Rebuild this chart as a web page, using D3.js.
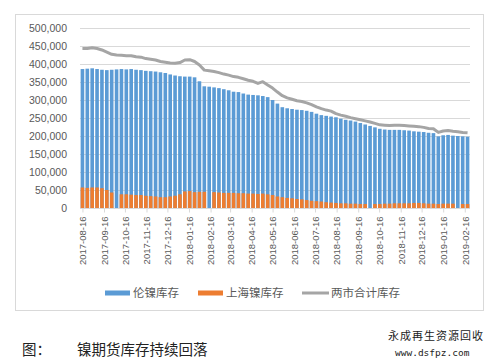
<!DOCTYPE html>
<html>
<head>
<meta charset="utf-8">
<script src="https://cdn.jsdelivr.net/npm/d3@7"></script>
<style>
  body { margin: 0; background: #fff; }
  svg { display: block; }
</style>
</head>
<body>
<div id="chart"></div>
<script>
// weekly dates (categories)
const dates = [
  "2017-08-16","2017-08-23","2017-08-30","2017-09-06","2017-09-13","2017-09-20","2017-09-27","2017-10-04",
  "2017-10-11","2017-10-18","2017-10-25","2017-11-01","2017-11-08","2017-11-15","2017-11-22","2017-11-29",
  "2017-12-06","2017-12-13","2017-12-20","2017-12-27","2018-01-03","2018-01-10","2018-01-17","2018-01-24",
  "2018-01-31","2018-02-07","2018-02-14","2018-02-21","2018-02-28","2018-03-07","2018-03-14","2018-03-21",
  "2018-03-28","2018-04-04","2018-04-11","2018-04-18","2018-04-25","2018-05-02","2018-05-09","2018-05-16",
  "2018-05-23","2018-05-30","2018-06-06","2018-06-13","2018-06-20","2018-06-27","2018-07-04","2018-07-11",
  "2018-07-18","2018-07-25","2018-08-01","2018-08-08","2018-08-15","2018-08-22","2018-08-29","2018-09-05",
  "2018-09-12","2018-09-19","2018-09-26","2018-10-03","2018-10-10","2018-10-17","2018-10-24","2018-10-31",
  "2018-11-07","2018-11-14","2018-11-21","2018-11-28","2018-12-05","2018-12-12","2018-12-19","2018-12-26",
  "2019-01-02","2019-01-09","2019-01-16","2019-01-23","2019-01-30","2019-02-06","2019-02-13","2019-02-20"
];

// 伦镍库存 (tonnes)
const lme = [
  386000,387000,388000,386000,384000,383000,384000,385000,386000,385000,386000,384000,383000,381000,380000,379000,
  377000,375000,371000,368000,366000,365000,365000,363000,352000,338000,337000,335000,333000,330000,327000,323000,
  322000,318000,315000,314000,313000,311000,308000,300000,290000,280000,277000,275000,273000,272000,270000,267000,
  262000,258000,256000,254000,252000,248000,245000,243000,240000,236000,232000,228000,224000,220000,218000,217000,
  217000,217000,216000,215000,213000,212000,211000,209000,208000,199000,202000,203000,201000,200000,199000,198000
];

// 上海镍库存 (null = no data that week)
const shfe = [
  57000,56000,57000,57000,55000,50000,43000,null,38000,38000,37000,36000,36000,34000,33000,32000,
  30000,30000,32000,34000,38000,46000,47000,44000,45000,45000,null,44000,43000,42000,42000,42000,
  41000,41000,40000,40000,39000,40000,38000,36000,32000,30000,28000,27000,25000,24000,22000,20000,
  19000,18000,16000,15000,14000,13000,13000,12000,12000,11000,11000,null,11000,11000,12000,12000,
  13000,13000,13000,13000,14000,14000,13000,12000,12000,11000,12000,12000,12000,null,11000,11000
];

// 两市合计库存
const total = [
  443000,443000,445000,443000,439000,433000,427000,425000,424000,423000,423000,420000,419000,415000,413000,411000,
  407000,405000,403000,402000,404000,411000,412000,407000,397000,383000,381000,379000,376000,372000,369000,365000,
  363000,359000,355000,352000,346000,351000,342000,333000,322000,312000,306000,302000,298000,296000,292000,287000,
  281000,276000,272000,269000,262000,258000,255000,251000,248000,245000,242000,239000,235000,231000,230000,229000,
  230000,230000,229000,228000,227000,226000,224000,221000,220000,210000,214000,215000,213000,212000,210000,209000
];

const tickLabels = [
  "2017-08-16","2017-09-16","2017-10-16","2017-11-16","2017-12-16","2018-01-16","2018-02-16",
  "2018-03-16","2018-04-16","2018-05-16","2018-06-16","2018-07-16","2018-08-16","2018-09-16",
  "2018-10-16","2018-11-16","2018-12-16","2019-01-16","2019-02-16"
];
const yTicks = [0,50000,100000,150000,200000,250000,300000,350000,400000,450000,500000];

const seriesNames = ["伦镍库存", "上海镍库存", "两市合计库存"];
const colors = { lme: "#5B9BD5", shfe: "#ED7D31", total: "#A5A5A5" };

const W = 501, H = 363;
const parse = d3.timeParse("%Y-%m-%d");
const data = dates.map((d, i) => ({ date: parse(d), lme: lme[i], shfe: shfe[i], total: total[i] }));

const svg = d3.select("#chart").append("svg")
  .attr("width", W)
  .attr("height", H)
  .style("font-family", "'Liberation Sans', Arial, sans-serif");

// chart area frame
svg.append("rect")
  .attr("x", 15.5).attr("y", 14.5)
  .attr("width", 468).attr("height", 296)
  .attr("fill", "#fff")
  .attr("stroke", "#D9D9D9");

const plot = { left: 80, right: 470, top: 28, bottom: 208 };

const first = data[0].date, last = data[data.length - 1].date;
const x = d3.scaleTime()
  .domain([d3.timeHour.offset(first, -84), d3.timeHour.offset(last, 84)])
  .range([plot.left, plot.right]);
const y = d3.scaleLinear().domain([0, 500000]).range([plot.bottom, plot.top]);

const barW = (x(d3.timeDay.offset(first, 7)) - x(first)) * 0.74;

// gridlines
svg.append("g")
  .selectAll("line")
  .data(yTicks)
  .join("line")
    .attr("x1", plot.left).attr("x2", plot.right)
    .attr("y1", d => Math.round(y(d)) + 0.5)
    .attr("y2", d => Math.round(y(d)) + 0.5)
    .attr("stroke", "#D9D9D9");

// y axis labels
const yAxis = d3.axisLeft(y).tickValues(yTicks).tickSize(0).tickPadding(13)
  .tickFormat(d3.format(","));
svg.append("g")
  .attr("transform", "translate(" + plot.left + ",0)")
  .call(yAxis)
  .call(g => g.select(".domain").remove())
  .selectAll("text")
    .attr("fill", "#595959")
    .style("font-size", "10.5px");

// blue bars
svg.append("g")
  .selectAll("rect")
  .data(data)
  .join("rect")
    .attr("x", d => x(d.date) - barW / 2)
    .attr("y", d => y(d.lme))
    .attr("width", barW)
    .attr("height", d => y(0) - y(d.lme))
    .attr("fill", colors.lme);

// orange bars, drawn over the blue ones
svg.append("g")
  .selectAll("rect")
  .data(data.filter(d => d.shfe != null))
  .join("rect")
    .attr("x", d => x(d.date) - barW / 2)
    .attr("y", d => y(d.shfe))
    .attr("width", barW)
    .attr("height", d => y(0) - y(d.shfe))
    .attr("fill", colors.shfe);

// total line
const line = d3.line()
  .x(d => x(d.date))
  .y(d => y(d.total));
svg.append("path")
  .datum(data)
  .attr("fill", "none")
  .attr("stroke", colors.total)
  .attr("stroke-width", 3)
  .attr("stroke-linejoin", "round")
  .attr("d", line);

// x axis
const tickDates = tickLabels.map(parse);
const xAxis = d3.axisBottom(x).tickValues(tickDates).tickSize(4).tickPadding(3)
  .tickFormat(d3.timeFormat("%Y-%m-%d"));
const gx = svg.append("g")
  .attr("transform", "translate(0," + (plot.bottom + 0.5) + ")")
  .call(xAxis);
gx.select(".domain")
  .attr("stroke", "#D9D9D9")
  .attr("d", "M" + plot.left + ",0H" + plot.right);
gx.selectAll(".tick line").attr("stroke", "#D9D9D9");
gx.selectAll("text")
  .attr("fill", "#595959")
  .style("font-size", "9.5px")
  .attr("text-anchor", "end")
  .attr("dy", "0.35em")
  .attr("transform", "translate(0,8) rotate(-90)")
  .attr("x", 0).attr("y", 0);

// legend
const legend = svg.append("g").attr("transform", "translate(0,293)")
  .style("font-family", "'Noto Sans CJK SC', sans-serif")
  .style("font-size", "11.5px");
const items = [
  { name: seriesNames[0], color: colors.lme, x: 105, type: "bar" },
  { name: seriesNames[1], color: colors.shfe, x: 198, type: "bar" },
  { name: seriesNames[2], color: colors.total, x: 302, type: "line" }
];
items.forEach(it => {
  if (it.type === "bar") {
    legend.append("rect").attr("x", it.x).attr("y", -2.5).attr("width", 25).attr("height", 5).attr("fill", it.color);
  } else {
    legend.append("line").attr("x1", it.x).attr("x2", it.x + 27).attr("y1", 0).attr("y2", 0)
      .attr("stroke", it.color).attr("stroke-width", 3);
  }
  legend.append("text")
    .attr("x", it.x + (it.type === "bar" ? 28 : 29))
    .attr("dy", "0.35em")
    .attr("fill", "#595959")
    .text(it.name);
});

// caption
const caption = svg.append("text")
  .attr("y", 355)
  .style("font-family", "'Noto Sans CJK SC', sans-serif")
  .style("font-size", "14.5px")
  .attr("fill", "#222");
caption.append("tspan").attr("x", 22).text("图：");
caption.append("tspan").attr("x", 77).text("镍期货库存持续回落");

svg.append("text")
  .attr("x", 388).attr("y", 340)
  .style("font-family", "'Noto Sans CJK SC', sans-serif")
  .style("font-size", "11px")
  .style("letter-spacing", "1px")
  .attr("fill", "#222")
  .text("永成再生资源回收");

svg.append("text")
  .attr("x", 395).attr("y", 356)
  .style("font-family", "'DejaVu Sans Mono', monospace")
  .style("font-size", "9.5px")
  .attr("fill", "#222")
  .text("www.dsfpz.com");
</script>
</body>
</html>
